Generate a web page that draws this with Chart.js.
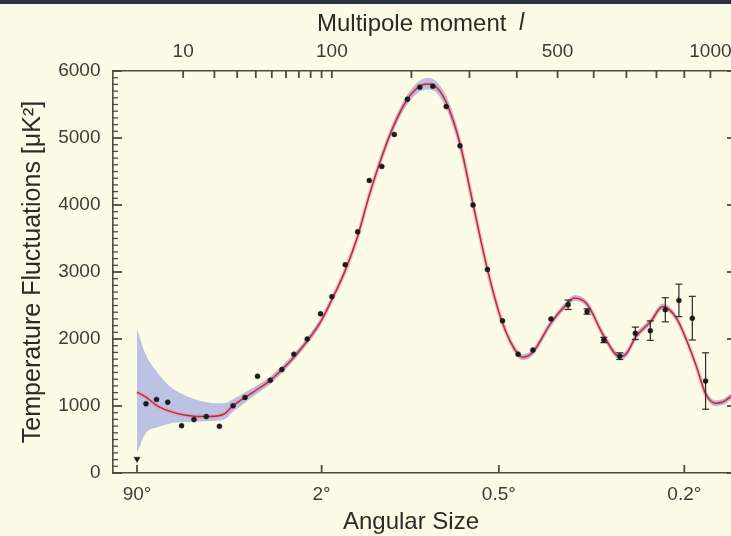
<!DOCTYPE html>
<html>
<head>
<meta charset="utf-8">
<script src="https://cdn.jsdelivr.net/npm/chart.js@4.4.0/dist/chart.umd.min.js"></script>
<style>
  html, body { margin: 0; padding: 0; overflow: hidden; background: #fcfce6; }
  #wrap { position: relative; width: 760px; height: 536px; }
  #bar { position: absolute; left: 0; top: 0; width: 100%; height: 4px; background: #2e3142; }
</style>
</head>
<body>
<div id="wrap"><canvas id="canvas" width="760" height="536"></canvas><div id="bar"></div></div>
<script>
// best-fit model curve: multipole l and temperature fluctuation (uK^2)
var modelL = [2, 3, 4.5, 7, 10, 14, 18, 24, 28, 34, 41, 49, 57, 66, 77, 89, 100, 114, 128, 142,
  158, 175, 194, 213, 225, 236, 257, 282, 307, 335, 367, 403, 415, 438, 483, 528, 545, 580, 630, 679,
  697, 731, 780, 822, 871, 908, 946, 981, 1020, 1050, 1080, 1100];
var modelV = [1208, 1132, 1010, 920, 868, 845, 842, 880, 1003, 1128, 1250, 1383, 1544, 1729, 1970, 2256, 2586, 3023, 3534, 4150,
  4722, 5203, 5579, 5774, 5805, 5785, 5534, 4917, 4015, 3068, 2256, 1770, 1728, 1805, 2241, 2541, 2612, 2526, 2045, 1740,
  1765, 2035, 2260, 2486, 2311, 1985, 1584, 1183, 1042, 1060, 1132, 1190];
// cosmic variance band around the model
var bandHigh = [2150, 1760, 1520, 1290, 1170, 1090, 1050, 1040, 1100, 1205, 1315, 1440, 1600, 1780, 2020, 2305, 2635, 3075, 3590, 4205,
  4780, 5265, 5650, 5860, 5895, 5875, 5630, 5005, 4090, 3130, 2305, 1815, 1773, 1850, 2286, 2586, 2657, 2571, 2090, 1785,
  1810, 2080, 2305, 2531, 2356, 2030, 1629, 1228, 1087, 1105, 1177, 1235];
var bandLow = [300, 600, 680, 740, 760, 765, 775, 800, 915, 1050, 1185, 1325, 1490, 1680, 1920, 2210, 2540, 2975, 3480, 4095,
  4665, 5140, 5505, 5690, 5720, 5700, 5440, 4830, 3940, 3005, 2205, 1725, 1683, 1760, 2196, 2496, 2567, 2481, 2000, 1695,
  1720, 1990, 2215, 2441, 2266, 1940, 1539, 1138, 997, 1015, 1087, 1145];

// measured band powers
var dataL = [2, 3, 4.5, 6.5, 9.6, 13, 17, 22, 28, 34, 41, 49, 57, 66, 77, 89, 100, 114, 128, 142,
  158, 175, 194, 213, 234, 257, 282, 307, 336, 368, 403, 438, 483, 528, 581, 630, 679, 729, 779, 831,
  880, 930, 981];
var dataV = [210, 1033, 1098, 1057, 707, 797, 842, 696, 1003, 1128, 1444, 1383, 1544, 1774, 2000, 2376, 2632, 3110, 3599, 4366,
  4576, 5053, 5579, 5759, 5774, 5469, 4883, 4000, 3038, 2271, 1774, 1835, 2300, 2511, 2410, 1985, 1744, 2085, 2125, 2436,
  2576, 2311, 1373];
var dataErr = [0, 0, 0, 0, 0, 0, 0, 0, 0, 0, 0, 0, 0, 0, 0, 0, 0, 0, 0, 0,
  0, 0, 0, 0, 0, 0, 0, 0, 0, 0, 0, 0, 0, 70, 40, 40, 50, 93, 145, 180,
  243, 326, 421];

var topTicks = [10, 20, 30, 40, 50, 60, 70, 80, 90, 100, 200, 300, 400, 500, 600, 700, 800, 900, 1000];
var topLabels = [10, 100, 500, 1000];
var angleTicks = [2, 90, 360, 900];
var angleLabels = ['90\u00b0', '2\u00b0', '0.5\u00b0', '0.2\u00b0'];
var yTicks = [0, 1000, 2000, 3000, 4000, 5000, 6000];

var POWER = 0.4058;
var L_MIN = 0.4, L_MAX = 1100;

// l axis of the original plot is roughly l^0.4
class PowerScale extends Chart.LinearScale {
  getPixelForValue(value) {
    var a = Math.pow(this.min, POWER), b = Math.pow(this.max, POWER);
    return this.getPixelForDecimal((Math.pow(value, POWER) - a) / (b - a));
  }
  getValueForPixel(pixel) {
    var a = Math.pow(this.min, POWER), b = Math.pow(this.max, POWER);
    return Math.pow(a + this.getDecimalForPixel(pixel) * (b - a), 1 / POWER);
  }
}
PowerScale.id = 'power';
PowerScale.defaults = Chart.LinearScale.defaults;
Chart.register(PowerScale);

var FONT = '"Liberation Sans", Arial, sans-serif';
var axisColor = '#4a4a42';

function pts(xs, ys) {
  return xs.map(function(x, i) { return {x: x, y: ys[i]}; });
}

var errPts = [];
dataL.forEach(function(l, i) {
  if (dataErr[i] > 0) {
    errPts.push({x: l, y: dataV[i] - dataErr[i]}, {x: l, y: dataV[i] + dataErr[i]}, {x: l, y: null});
  }
});

// tick marks point into the plot, like the original
var tickLen = {x: 7, x2: 8, y: 9, yR: 8};
var innerTicks = {
  id: 'innerTicks',
  afterDraw: function(chart) {
    var ctx = chart.ctx, a = chart.chartArea;
    ctx.save();
    ctx.strokeStyle = axisColor;
    ['x', 'x2', 'y', 'yR'].forEach(function(id) {
      var s = chart.scales[id];
      var pos = s.options.position;
      s.ticks.forEach(function(t) {
        var len = tickLen[id], w = 1.8;
        if (id === 'y' && t.value % 1000 !== 0) { len = 5; w = 1.3; }
        var p = s.getPixelForValue(t.value);
        ctx.lineWidth = w;
        ctx.beginPath();
        if (pos === 'top') { ctx.moveTo(p, a.top); ctx.lineTo(p, a.top + len); }
        else if (pos === 'bottom') { ctx.moveTo(p, a.bottom); ctx.lineTo(p, a.bottom - len); }
        else if (pos === 'left') { ctx.moveTo(a.left, p); ctx.lineTo(a.left + len, p); }
        else { ctx.moveTo(a.right, p); ctx.lineTo(a.right - len, p); }
        ctx.stroke();
      });
    });
    ctx.restore();
  }
};

var titlePlugin = {
  id: 'axisTitles',
  afterDraw: function(chart) {
    var ctx = chart.ctx;
    ctx.save();
    ctx.fillStyle = '#2a2a2a';
    ctx.textBaseline = 'middle';
    ctx.font = '24px ' + FONT;
    ctx.textAlign = 'center';
    ctx.fillText('Angular Size', 411, 522);
    ctx.textAlign = 'left';
    ctx.fillText('Multipole moment', 317, 24);
    ctx.font = 'italic 23px ' + FONT;
    ctx.fillText('l', 519, 24);
    ctx.restore();
  }
};

var tickFont = {family: FONT, size: 19};
var noGrid = {display: false, drawTicks: false};

new Chart(document.getElementById('canvas'), {
  type: 'line',
  plugins: [innerTicks, titlePlugin],
  data: {
    datasets: [{
      label: 'data',
      data: pts(dataL, dataV),
      showLine: false,
      pointStyle: function(c) { return c.dataIndex === 0 ? 'triangle' : 'circle'; },
      rotation: function(c) { return c.dataIndex === 0 ? 180 : 0; },
      pointRadius: function(c) { return c.dataIndex === 0 ? 3.5 : 2.5; },
      pointBackgroundColor: '#1c1c1c',
      pointBorderColor: '#1c1c1c',
      pointBorderWidth: 0.5,
      order: 0
    }, {
      label: 'errors',
      data: errPts,
      borderColor: '#2a2a2a',
      borderWidth: 1.2,
      tension: 0,
      spanGaps: false,
      pointStyle: 'line',
      pointRadius: function(c) { return c.raw && c.raw.y != null ? 3.5 : 0; },
      pointBorderColor: '#2a2a2a',
      pointBorderWidth: 1.2,
      order: 1
    }, {
      label: 'model',
      data: pts(modelL, modelV),
      borderColor: '#c42a35',
      borderWidth: 1.5,
      pointRadius: 0,
      cubicInterpolationMode: 'monotone',
      order: 2
    }, {
      label: 'halo',
      data: pts(modelL, modelV),
      borderColor: 'rgba(228,140,160,0.4)',
      borderWidth: 4.5,
      pointRadius: 0,
      cubicInterpolationMode: 'monotone',
      order: 3
    }, {
      label: 'band high',
      data: pts(modelL, bandHigh),
      borderWidth: 0,
      borderColor: 'rgba(0,0,0,0)',
      backgroundColor: '#bcc2e4',
      pointRadius: 0,
      cubicInterpolationMode: 'monotone',
      fill: '+1',
      order: 4
    }, {
      label: 'band low',
      data: pts(modelL, bandLow),
      borderWidth: 0,
      borderColor: 'rgba(0,0,0,0)',
      pointRadius: 0,
      cubicInterpolationMode: 'monotone',
      fill: false,
      order: 5
    }]
  },
  options: {
    responsive: false,
    animation: false,
    layout: {padding: 0},
    plugins: {legend: {display: false}, tooltip: {enabled: false}},
    scales: {
      x: {
        type: 'power', position: 'top', min: L_MIN, max: L_MAX, bounds: 'data',
        afterBuildTicks: function(s) { s.ticks = topTicks.map(function(v) { return {value: v}; }); },
        afterFit: function(s) { s.height = 71; },
        ticks: {
          autoSkip: false, maxRotation: 0, padding: 7.6, font: tickFont, color: '#3a3a3a',
          callback: function(v) { return topLabels.indexOf(v) >= 0 ? String(v) : ''; }
        },
        grid: noGrid,
        border: {display: true, color: axisColor, width: 1.6}
      },
      x2: {
        type: 'power', position: 'bottom', min: L_MIN, max: L_MAX, bounds: 'data',
        afterBuildTicks: function(s) { s.ticks = angleTicks.map(function(v) { return {value: v}; }); },
        afterFit: function(s) { s.height = 63; },
        ticks: {
          autoSkip: false, maxRotation: 0, padding: 10, font: tickFont, color: '#3a3a3a',
          callback: function(v, i) { return angleLabels[i]; }
        },
        grid: noGrid,
        border: {display: true, color: axisColor, width: 1.6}
      },
      y: {
        type: 'linear', position: 'left', min: 0, max: 6000,
        afterBuildTicks: function(s) {
          var t = [];
          for (var v = 0; v <= 6000; v += 100) t.push({value: v});
          s.ticks = t;
        },
        afterFit: function(s) { s.width = 113; },
        ticks: {
          autoSkip: false, padding: 12.5, font: tickFont, color: '#3a3a3a',
          callback: function(v) { return yTicks.indexOf(v) >= 0 ? String(v) : ''; }
        },
        grid: noGrid,
        border: {display: true, color: axisColor, width: 1.6},
        title: {
          display: true, text: 'Temperature Fluctuations [\u03bcK\u00b2]', color: '#2a2a2a',
          font: {family: FONT, size: 25}, padding: {top: 18, bottom: 0}
        }
      },
      yR: {
        type: 'linear', position: 'right', min: 0, max: 6000,
        afterBuildTicks: function(s) { s.ticks = yTicks.map(function(v) { return {value: v}; }); },
        afterFit: function(s) { s.width = 25; },
        ticks: {display: false, autoSkip: false},
        grid: noGrid,
        border: {display: true, color: axisColor, width: 1.6}
      }
    }
  }
});
</script>
</body>
</html>
